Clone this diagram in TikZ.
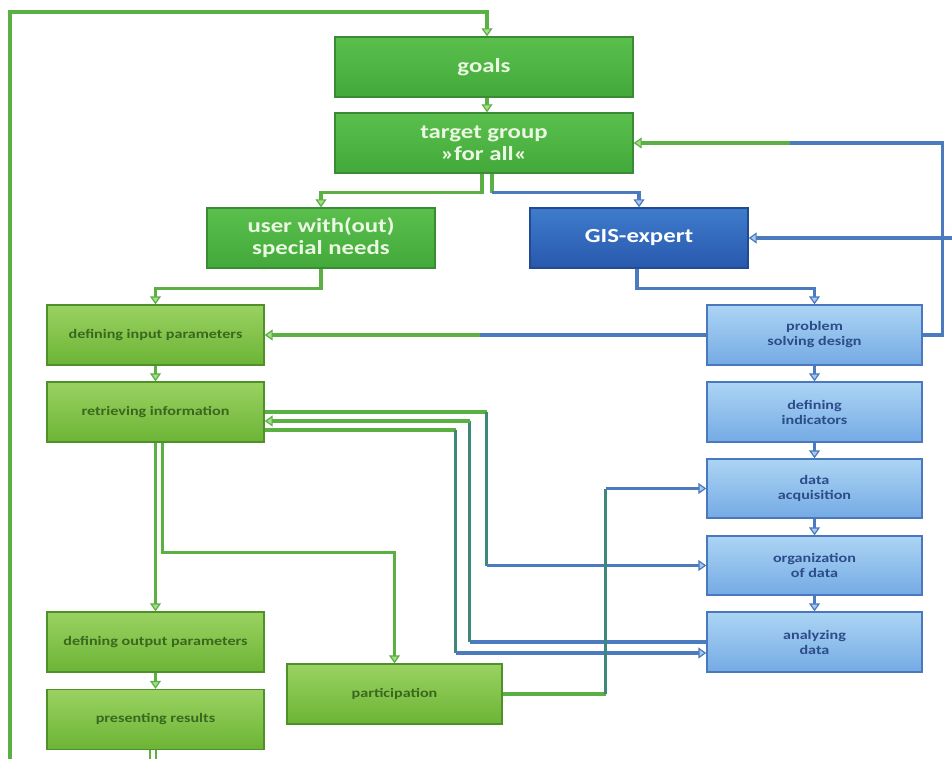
\documentclass[tikz,border=0pt]{standalone}
\usepackage{fontspec}
\setmainfont{Carlito}[FakeStretch=1.24]
\usetikzlibrary{arrows.meta}

% box colours
\definecolor{gA}{HTML}{5ABF4C}
\definecolor{gB}{HTML}{42A93A}
\definecolor{gBorder}{HTML}{3A8C34}
\definecolor{gText}{HTML}{EAF7E2}
\definecolor{lgA}{HTML}{9AD262}
\definecolor{lgB}{HTML}{6CB435}
\definecolor{lgBorder}{HTML}{4F9129}
\definecolor{lgText}{HTML}{3A681E}
\definecolor{blA}{HTML}{ACD5F4}
\definecolor{blB}{HTML}{74AAE4}
\definecolor{blBorder}{HTML}{4A78BE}
\definecolor{blText}{HTML}{2C4C8A}
\definecolor{gisA}{HTML}{3F7CCC}
\definecolor{gisB}{HTML}{2858AD}
\definecolor{gisBorder}{HTML}{214A92}
% connector colours
\definecolor{gLine}{HTML}{5AB043}
\definecolor{gTipFill}{HTML}{A8DC8A}
\definecolor{bLine}{HTML}{4C7ABF}
\definecolor{bTipFill}{HTML}{A9C8EE}
\definecolor{tLine}{HTML}{3D8878}

\tikzset{
  headbox/.style={draw=gBorder, line width=1.4pt, top color=gA, bottom color=gB,
    text=gText, font=\bfseries\fontsize{20}{22}\selectfont, align=center, inner sep=0pt},
  stagebox/.style={draw=lgBorder, line width=1.4pt, top color=lgA, bottom color=lgB,
    text=lgText, font=\bfseries\fontsize{13}{15}\selectfont, align=center, inner sep=0pt,
    minimum width=217pt, minimum height=60pt},
  expertbox/.style={draw=gisBorder, line width=1.4pt, top color=gisA, bottom color=gisB,
    text=white, font=\bfseries\fontsize{20}{22}\selectfont, align=center, inner sep=0pt},
  taskbox/.style={draw=blBorder, line width=1.4pt, top color=blA, bottom color=blB,
    text=blText, font=\bfseries\fontsize{13}{15}\selectfont, align=center, inner sep=0pt,
    minimum width=215pt, minimum height=59pt},
  gline/.style={draw=gLine, line width=3.2pt},
  bline/.style={draw=bLine, line width=3.2pt},
  tline/.style={draw=tLine, line width=3.2pt},
  garrow/.style={gline, -{Triangle[length=8pt,width=11pt,line width=1.2pt,fill=gTipFill]}},
  barrow/.style={bline, -{Triangle[length=8pt,width=11pt,line width=1.2pt,fill=bTipFill]}},
}

\begin{document}
\begin{tikzpicture}[x=1pt, y=-1pt]
\useasboundingbox (0,0) rectangle (952,759);
\fill[white] (0,0) rectangle (952,759);

% ---------- boxes ----------
\node[headbox, minimum width=298pt, minimum height=60pt] (goals) at (484,67) {goals};
\node[headbox, minimum width=298pt, minimum height=60pt] (target) at (484,143) {target group\\»for all«};
\node[headbox, minimum width=228pt, minimum height=60pt] (user) at (321,238) {user with(out)\\special needs};
\node[expertbox, minimum width=218pt, minimum height=60pt] (gis) at (639,238) {GIS-expert};

\node[stagebox] (defin)  at (155.5,335) {defining input parameters};
\node[stagebox] (retr)   at (155.5,412) {retrieving information};
\node[stagebox] (defout) at (155.5,642) {defining output parameters};
\node[stagebox] (pres)   at (155.5,719.5) {presenting results};
\node[stagebox, minimum width=215pt] (part) at (394.5,694) {participation};

\node[taskbox, minimum height=60pt] (psd) at (814.5,335) {problem\\solving design};
\node[taskbox, minimum height=60pt] (ind) at (814.5,412) {defining\\indicators};
\node[taskbox] (acq) at (814.5,488.5) {data\\acquisition};
\node[taskbox] (org) at (814.5,565.5) {organization\\of data};
\node[taskbox, minimum height=60pt] (ana) at (814.5,642) {analyzing\\data};

% ---------- outer feedback loop ----------
\coordinate (loopfoot) at (10,759);
\coordinate (loopcorner) at (487,12);
\draw[garrow] (loopfoot) |- (loopcorner) -- ([xshift=3pt]goals.north);

% ---------- top hierarchy ----------
\draw[garrow] ([xshift=3pt]goals.south) -- ([xshift=3pt]target.north);
\draw[garrow] ([xshift=-2pt]target.south) -- ++(0,19) -| (user.north);
\draw[gline] ([xshift=8pt]target.south) -- ++(0,19) coordinate (tgk);
\draw[barrow] (tgk) -| (gis.north);
\draw[garrow] (user.south) -- ++(0,20) -| (defin.north);
\draw[barrow] ([xshift=-2pt]gis.south) -- ++(0,20) -| (psd.north);

% ---------- problem solving design feedback ----------
\coordinate (psdmid) at (480,335);
\draw[bline] (psd.west) -- (psdmid);
\draw[garrow] (psdmid) -- (defin.east);
\coordinate (fbk) at (790,143);
\draw[bline] (psd.east) -- ++(20,0) |- (fbk);
\draw[garrow] (fbk) -- (target.east);
\coordinate (gisin) at (952,238);
\draw[barrow] (gisin) -- (gis.east);

% ---------- vertical chains ----------
\draw[garrow] (defin) -- (retr);
\draw[garrow] (defout) -- (pres);
\draw[barrow] (psd) -- (ind);
\draw[barrow] (ind) -- (acq);
\draw[barrow] (acq) -- (org);
\draw[barrow] (org) -- (ana);

% ---------- retrieving information <-> GIS tasks ----------
\draw[gline] (retr.east) -- ++(222,0) coordinate (r1);
\draw[tline] (r1) -- (r1 |- org.west) coordinate (r1b);
\draw[barrow] (r1b) -- (org.west);

\path ([yshift=-9pt]retr.east) ++(205,0) coordinate (r2);
\draw[bline] (ana.west) -- (ana.west -| r2) coordinate (r2b);
\draw[tline] (r2b) -- (r2);
\draw[garrow] (r2) -- ([yshift=-9pt]retr.east);

\path ([yshift=-18pt]retr.east) ++(191,0) coordinate (r3);
\coordinate (a3) at ([yshift=-11pt]ana.west);
\draw[gline] ([yshift=-18pt]retr.east) -- (r3);
\draw[tline] (r3) -- (r3 |- a3) coordinate (r3b);
\draw[barrow] (r3b) -- (a3);

% ---------- retrieving information downwards ----------
\draw[garrow] (retr.south) -- (defout.north);
\draw[garrow] ([xshift=7pt]retr.south) -- ++(0,110) -| (part.north);

% ---------- participation -> data acquisition ----------
\draw[gline] (part.east) -- ++(103,0) coordinate (p1);
\draw[tline] (p1) -- (p1 |- acq.west) coordinate (p2);
\draw[barrow] (p2) -- (acq.west);

% ---------- continuation below presenting results ----------
\coordinate (pf1) at (150,759);
\coordinate (pf2) at (156,759);
\draw[gLine, line width=1.6pt] (pres.south -| pf1) -- (pf1);
\draw[gLine, line width=1.6pt] (pres.south -| pf2) -- (pf2);
\end{tikzpicture}
\end{document}
